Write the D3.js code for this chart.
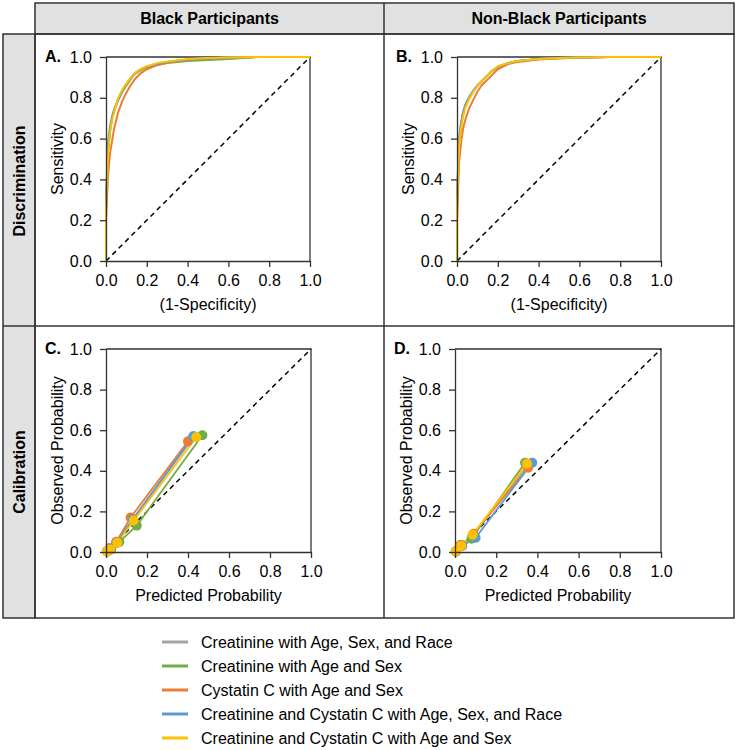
<!DOCTYPE html>
<html>
<head>
<meta charset="utf-8">
<script src="https://cdn.jsdelivr.net/npm/d3@7"></script>
<style>
  html, body { margin: 0; padding: 0; background: #fff; }
  svg { display: block; font-family: "Liberation Sans", Arial, sans-serif; }
</style>
</head>
<body>
<svg id="chart" width="738" height="750"></svg>
<script>
// ---------------- DATA ----------------
const seriesNames = [
  "Creatinine with Age, Sex, and Race",
  "Creatinine with Age and Sex",
  "Cystatin C with Age and Sex",
  "Creatinine and Cystatin C with Age, Sex, and Race",
  "Creatinine and Cystatin C with Age and Sex"
];
const seriesColors = ["#a5a5a5", "#70ad47", "#ed7d31", "#5b9bd5", "#ffc000"];
const columnTitles = ["Black Participants", "Non-Black Participants"];
const rowTitles = ["Discrimination", "Calibration"];
const panelLetters = ["A.", "B.", "C.", "D."];
const tickValues = [0, 0.2, 0.4, 0.6, 0.8, 1.0];

// ROC curves: shared false-positive-rate grid, sensitivity per series
const rocFpr = [0, 0, 0.01, 0.02, 0.03, 0.04, 0.06, 0.08, 0.10, 0.12, 0.14, 0.17, 0.20, 0.25, 0.30, 0.40, 0.50, 0.60, 0.75, 1.0];
// Panel A (Black participants)
const rocA_gray   = [0, 0.26, 0.54, 0.64, 0.70, 0.74, 0.795, 0.835, 0.865, 0.89, 0.915, 0.935, 0.95, 0.965, 0.975, 0.988, 0.993, 0.997, 1.0, 1.0];
const rocA_green  = [0, 0.30, 0.58, 0.66, 0.71, 0.745, 0.79, 0.83, 0.86, 0.89, 0.92, 0.935, 0.95, 0.962, 0.97, 0.98, 0.985, 0.99, 1.0, 1.0];
const rocA_orange = [0, 0.20, 0.42, 0.53, 0.59, 0.65, 0.73, 0.785, 0.825, 0.86, 0.89, 0.92, 0.94, 0.96, 0.972, 0.987, 0.993, 0.997, 1.0, 1.0];
const rocA_blue   = [0, 0.27, 0.55, 0.645, 0.70, 0.735, 0.79, 0.835, 0.87, 0.895, 0.92, 0.94, 0.953, 0.967, 0.976, 0.988, 0.994, 0.998, 1.0, 1.0];
const rocA_yellow = [0, 0.25, 0.52, 0.63, 0.69, 0.73, 0.80, 0.84, 0.87, 0.895, 0.92, 0.94, 0.955, 0.97, 0.978, 0.99, 0.995, 0.998, 1.0, 1.0];
// Panel B (Non-Black participants)
const rocB_gray   = [0, 0.27, 0.57, 0.66, 0.72, 0.755, 0.80, 0.83, 0.86, 0.88, 0.90, 0.93, 0.953, 0.97, 0.98, 0.99, 0.995, 0.998, 1.0, 1.0];
const rocB_green  = [0, 0.30, 0.60, 0.68, 0.73, 0.765, 0.805, 0.835, 0.86, 0.88, 0.90, 0.93, 0.95, 0.97, 0.98, 0.99, 0.995, 0.997, 1.0, 1.0];
const rocB_orange = [0, 0.20, 0.48, 0.58, 0.65, 0.69, 0.75, 0.79, 0.83, 0.86, 0.88, 0.91, 0.94, 0.965, 0.976, 0.988, 0.993, 0.997, 1.0, 1.0];
const rocB_blue   = [0, 0.29, 0.59, 0.675, 0.73, 0.76, 0.80, 0.835, 0.86, 0.88, 0.90, 0.93, 0.952, 0.97, 0.98, 0.99, 0.995, 0.998, 1.0, 1.0];
const rocB_yellow = [0, 0.28, 0.56, 0.65, 0.71, 0.75, 0.795, 0.83, 0.86, 0.88, 0.90, 0.93, 0.955, 0.97, 0.98, 0.99, 0.995, 0.998, 1.0, 1.0];

// Calibration: [predicted, observed] per risk group
const calC_gray   = [[0.005, 0.003], [0.02, 0.015], [0.05, 0.045], [0.13, 0.16], [0.43, 0.57]];
const calC_green  = [[0.006, 0.003], [0.025, 0.012], [0.065, 0.05], [0.15, 0.13], [0.47, 0.575]];
const calC_orange = [[0.004, 0.004], [0.018, 0.02], [0.05, 0.05], [0.12, 0.17], [0.40, 0.545]];
const calC_blue   = [[0.005, 0.003], [0.02, 0.015], [0.05, 0.045], [0.13, 0.16], [0.425, 0.57]];
const calC_yellow = [[0.005, 0.002], [0.02, 0.012], [0.055, 0.045], [0.135, 0.155], [0.44, 0.565]];

const calD_gray   = [[0.004, 0.003], [0.03, 0.03], [0.085, 0.08], [0.36, 0.435]];
const calD_green  = [[0.004, 0.003], [0.028, 0.035], [0.08, 0.065], [0.34, 0.44]];
const calD_orange = [[0.004, 0.003], [0.03, 0.035], [0.09, 0.09], [0.355, 0.415]];
const calD_blue   = [[0.005, 0.002], [0.035, 0.03], [0.10, 0.07], [0.375, 0.44]];
const calD_yellow = [[0.004, 0.003], [0.03, 0.03], [0.085, 0.085], [0.35, 0.435]];

// ---------------- DRAWING ----------------
const svg = d3.select("#chart");
const lineCol = "#333";
const textCol = "#000";

// Grid frame
const gridX = [3, 35, 384, 734];
const gridY = [3, 34, 326, 618];

svg.append("rect").attr("x", gridX[1]).attr("y", gridY[0])
  .attr("width", gridX[3] - gridX[1]).attr("height", gridY[1] - gridY[0])
  .attr("fill", "#e1e1e1").attr("stroke", lineCol).attr("stroke-width", 1.5);
svg.append("rect").attr("x", gridX[0]).attr("y", gridY[1])
  .attr("width", gridX[1] - gridX[0]).attr("height", gridY[3] - gridY[1])
  .attr("fill", "#e1e1e1").attr("stroke", lineCol).attr("stroke-width", 1.5);
svg.append("rect").attr("x", gridX[1]).attr("y", gridY[1])
  .attr("width", gridX[3] - gridX[1]).attr("height", gridY[3] - gridY[1])
  .attr("fill", "none").attr("stroke", lineCol).attr("stroke-width", 1.5);
svg.append("line").attr("x1", gridX[0]).attr("x2", gridX[3]).attr("y1", gridY[2]).attr("y2", gridY[2])
  .attr("stroke", lineCol).attr("stroke-width", 1.5);
svg.append("line").attr("x1", gridX[2]).attr("x2", gridX[2]).attr("y1", gridY[0]).attr("y2", gridY[3])
  .attr("stroke", lineCol).attr("stroke-width", 1.5);

columnTitles.forEach((t, i) => {
  svg.append("text").attr("x", (gridX[i + 1] + gridX[i + 2]) / 2).attr("y", 24)
    .attr("text-anchor", "middle").attr("font-weight", "bold").attr("font-size", 16)
    .attr("fill", textCol).text(t);
});
rowTitles.forEach((t, i) => {
  const cy = i === 0 ? 181 : 472;
  svg.append("text").attr("transform", `translate(25,${cy}) rotate(-90)`)
    .attr("text-anchor", "middle").attr("font-weight", "bold").attr("font-size", 16)
    .attr("fill", textCol).text(t);
});

const panels = [
  { letter: panelLetters[0], x0: 106, x1: 310, y0: 57, y1: 261, xTitle: "(1-Specificity)", yTitle: "Sensitivity", type: "roc",
    series: [rocA_gray, rocA_green, rocA_orange, rocA_blue, rocA_yellow] },
  { letter: panelLetters[1], x0: 457, x1: 661, y0: 57, y1: 261, xTitle: "(1-Specificity)", yTitle: "Sensitivity", type: "roc",
    series: [rocB_gray, rocB_green, rocB_orange, rocB_blue, rocB_yellow] },
  { letter: panelLetters[2], x0: 106, x1: 311, y0: 349, y1: 552, xTitle: "Predicted Probability", yTitle: "Observed Probability", type: "cal",
    series: [calC_gray, calC_green, calC_orange, calC_blue, calC_yellow] },
  { letter: panelLetters[3], x0: 455, x1: 661, y0: 349, y1: 552, xTitle: "Predicted Probability", yTitle: "Observed Probability", type: "cal",
    series: [calD_gray, calD_green, calD_orange, calD_blue, calD_yellow] }
];

panels.forEach(p => {
  const x = d3.scaleLinear().domain([0, 1]).range([p.x0, p.x1]);
  const y = d3.scaleLinear().domain([0, 1]).range([p.y1, p.y0]);
  const g = svg.append("g");

  g.append("path")
    .attr("d", `M${x(0)},${y(1)}H${x(1)}V${y(0)}`)
    .attr("fill", "none").attr("stroke", lineCol).attr("stroke-width", 1.3);

  g.append("line").attr("x1", x(0)).attr("y1", y(0)).attr("x2", x(1)).attr("y2", y(1))
    .attr("stroke", "#000").attr("stroke-width", 1.5).attr("stroke-dasharray", "5,4");

  const line = d3.line().x(d => x(d[0])).y(d => y(d[1]));

  if (p.type === "roc") {
    p.series.forEach((tpr, i) => {
      const pts = rocFpr.map((f, k) => [f, tpr[k]]);
      g.append("path").datum(pts).attr("d", line)
        .attr("fill", "none").attr("stroke", seriesColors[i]).attr("stroke-width", 2)
        .attr("stroke-linejoin", "round");
    });
  } else {
    p.series.forEach((pts, i) => {
      g.append("path").datum(pts).attr("d", line)
        .attr("fill", "none").attr("stroke", seriesColors[i]).attr("stroke-width", 1.8);
    });
    p.series.forEach((pts, i) => {
      g.selectAll(null).data(pts).enter().append("circle")
        .attr("cx", d => x(d[0])).attr("cy", d => y(d[1])).attr("r", 5)
        .attr("fill", seriesColors[i]);
    });
  }

  const fmt = d3.format(".1f");
  const xa = g.append("g").attr("transform", `translate(0,${p.y1})`)
    .call(d3.axisBottom(x).tickValues(tickValues).tickFormat(fmt).tickSize(6).tickSizeOuter(0).tickPadding(8));
  const ya = g.append("g").attr("transform", `translate(${p.x0},0)`)
    .call(d3.axisLeft(y).tickValues(tickValues).tickFormat(fmt).tickSize(6).tickSizeOuter(0).tickPadding(8));
  [xa, ya].forEach(a => {
    a.selectAll("path, line").attr("stroke", lineCol).attr("stroke-width", 1.3);
    a.selectAll("text").attr("font-size", 16).attr("fill", textCol)
      .attr("font-family", "'Liberation Sans', Arial, sans-serif");
  });

  g.append("text").attr("x", (p.x0 + p.x1) / 2).attr("y", p.y1 + 49)
    .attr("text-anchor", "middle").attr("font-size", 16).attr("fill", textCol).text(p.xTitle);
  g.append("text").attr("transform", `translate(${p.x0 - 43},${(p.y0 + p.y1) / 2}) rotate(-90)`)
    .attr("text-anchor", "middle").attr("font-size", 16).attr("fill", textCol).text(p.yTitle);
  g.append("text").attr("x", p.x0 - 61).attr("y", p.y0 + 5)
    .attr("font-size", 16).attr("font-weight", "bold").attr("fill", textCol).text(p.letter);
});

// legend
const legend = svg.append("g");
seriesNames.forEach((n, i) => {
  const cy = 642 + i * 24;
  legend.append("line").attr("x1", 162).attr("x2", 188).attr("y1", cy).attr("y2", cy)
    .attr("stroke", seriesColors[i]).attr("stroke-width", 3);
  legend.append("text").attr("x", 201).attr("y", cy + 5.5)
    .attr("font-size", 16).attr("fill", textCol).text(n);
});
</script>
</body>
</html>
